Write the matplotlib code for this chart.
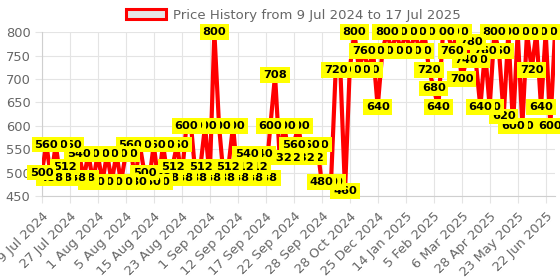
import numpy as np
import matplotlib
matplotlib.use("Agg")
import matplotlib.pyplot as plt
from matplotlib.patches import Patch

# price history (one entry per record, category axis)
dates = [
    "9 Jul 2024", "11 Jul 2024", "14 Jul 2024", "18 Jul 2024", "21 Jul 2024", "24 Jul 2024",
    "27 Jul 2024", "28 Jul 2024", "29 Jul 2024", "30 Jul 2024", "31 Jul 2024", "31 Jul 2024",
    "1 Aug 2024", "2 Aug 2024", "2 Aug 2024", "3 Aug 2024", "3 Aug 2024", "4 Aug 2024",
    "5 Aug 2024", "6 Aug 2024", "8 Aug 2024", "9 Aug 2024", "11 Aug 2024", "13 Aug 2024",
    "15 Aug 2024", "16 Aug 2024", "17 Aug 2024", "19 Aug 2024", "20 Aug 2024", "22 Aug 2024",
    "23 Aug 2024", "24 Aug 2024", "26 Aug 2024", "27 Aug 2024", "29 Aug 2024", "30 Aug 2024",
    "1 Sep 2024", "3 Sep 2024", "5 Sep 2024", "7 Sep 2024", "9 Sep 2024", "10 Sep 2024",
    "12 Sep 2024", "13 Sep 2024", "14 Sep 2024", "15 Sep 2024", "15 Sep 2024", "16 Sep 2024",
    "17 Sep 2024", "18 Sep 2024", "19 Sep 2024", "20 Sep 2024", "20 Sep 2024", "21 Sep 2024",
    "22 Sep 2024", "23 Sep 2024", "24 Sep 2024", "25 Sep 2024", "26 Sep 2024", "27 Sep 2024",
    "28 Sep 2024", "2 Oct 2024", "7 Oct 2024", "12 Oct 2024", "17 Oct 2024", "22 Oct 2024",
    "28 Oct 2024", "7 Nov 2024", "18 Nov 2024", "28 Nov 2024", "6 Dec 2024", "15 Dec 2024",
    "25 Dec 2024", "28 Dec 2024", "31 Dec 2024", "3 Jan 2025", "7 Jan 2025", "11 Jan 2025",
    "14 Jan 2025", "18 Jan 2025", "21 Jan 2025", "25 Jan 2025", "28 Jan 2025", "1 Feb 2025",
    "5 Feb 2025", "10 Feb 2025", "14 Feb 2025", "19 Feb 2025", "23 Feb 2025", "28 Feb 2025",
    "6 Mar 2025", "15 Mar 2025", "24 Mar 2025", "2 Apr 2025", "11 Apr 2025", "20 Apr 2025",
    "28 Apr 2025", "2 May 2025", "6 May 2025", "10 May 2025", "14 May 2025", "19 May 2025",
    "23 May 2025", "28 May 2025", "2 Jun 2025", "7 Jun 2025", "12 Jun 2025", "17 Jun 2025",
    "22 Jun 2025", "9 Jul 2025", "17 Jul 2025",
]

prices = [
    500, 560, 488, 560, 488, 512, 560, 488, 540, 488, 540, 480,
    540, 480, 540, 480, 540, 480, 540, 560, 480, 560, 500, 480,
    560, 480, 560, 488, 512, 560, 488, 600, 600, 488, 512, 600,
    488, 800, 600, 488, 512, 600, 488, 512, 540, 488, 512, 540,
    488, 600, 708, 532, 600, 532, 560, 600, 532, 560, 532, 560,
    480, 480, 480, 720, 720, 460, 720, 800, 720, 760, 720, 760,
    640, 760, 800, 760, 800, 760, 800, 760, 800, 760, 800, 720,
    680, 640, 800, 800, 760, 800, 700, 740, 780, 740, 640, 760,
    640, 800, 760, 620, 800, 600, 800, 600, 800, 720, 800, 640,
    800, 600, 800,
]

legend_label = "Price History from 9 Jul 2024 to 17 Jul 2025"
y_ticks = [450, 500, 550, 600, 650, 700, 750, 800]
tick_every = 6

grid_col = "#e4e4e4"
text_col = "#666666"

fig = plt.figure(figsize=(5.6, 2.8), dpi=100)
ax = fig.add_axes([0.0745, 0.30, 0.9166, 0.5846])

x = np.arange(len(prices))
ax.plot(x, prices, color="#ff0000", lw=3.0, zorder=3)

# data labels, earlier points drawn on top
n = len(prices)
for i, v in enumerate(prices):
    ax.text(i, v, str(v), ha="center", va="center", fontsize=8.2,
            fontweight="bold", color="black", clip_on=False,
            zorder=10 + (n - i) * 0.01,
            bbox=dict(boxstyle="square,pad=0.25", fc="#ffff00", ec="none"))

ax.set_xlim(0, n - 1)
ax.set_ylim(450, 800)
ax.set_yticks(y_ticks)
ax.set_xticks(x[::tick_every])
ax.set_xticklabels(dates[::tick_every], rotation=45, ha="right",
                   rotation_mode="anchor")

ax.grid(True, color=grid_col, lw=0.8, zorder=0)
ax.tick_params(axis="both", colors=grid_col, labelcolor=text_col,
               labelsize=9.4, length=5, width=0.8)
ax.tick_params(axis="y", pad=3)
ax.tick_params(axis="x", pad=5)
for s in ["top", "right"]:
    ax.spines[s].set_visible(False)
for s in ["left", "bottom"]:
    ax.spines[s].set_color("#cfcfcf")
    ax.spines[s].set_linewidth(0.8)

handle = Patch(facecolor="#e6e6e6", edgecolor="#ff0000", linewidth=2.2)
fig.legend([handle], [legend_label], loc="center", bbox_to_anchor=(0.524, 0.946),
           frameon=False, fontsize=9.5, labelcolor=text_col,
           handlelength=3.0, handleheight=0.75, handletextpad=0.5)

fig.savefig("out.png", dpi=100)
